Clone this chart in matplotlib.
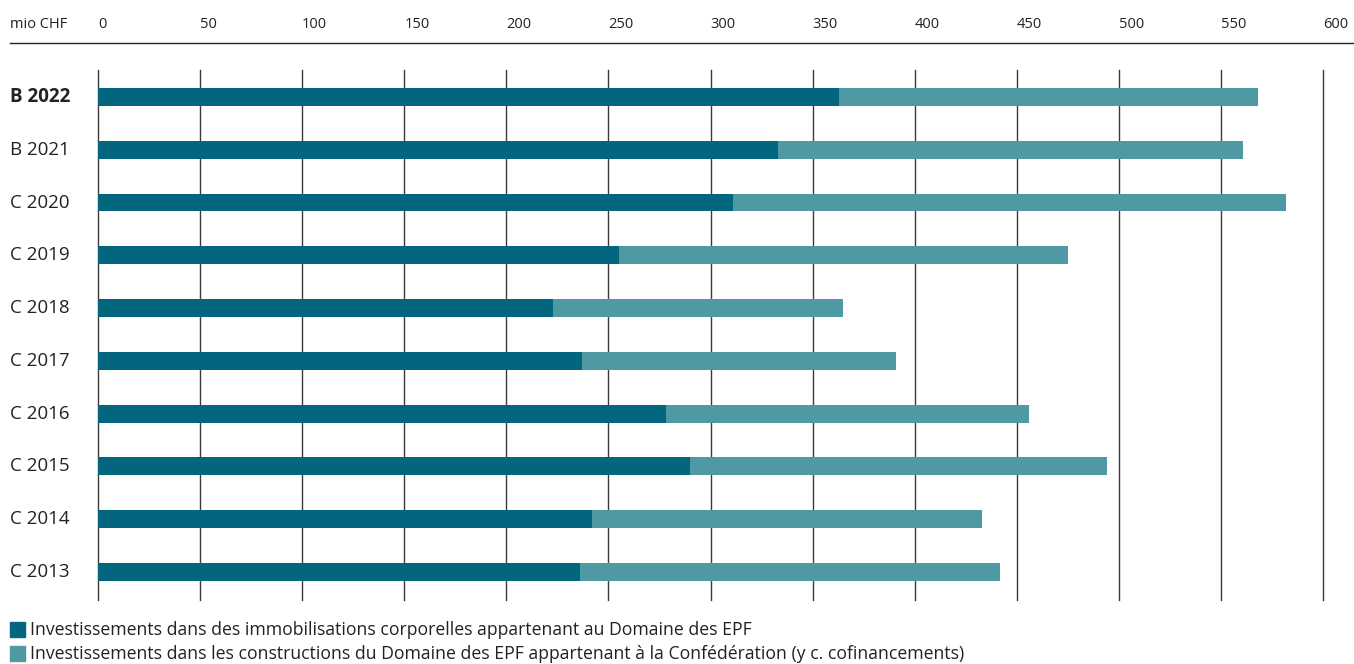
import numpy as np
import matplotlib.pyplot as plt
import matplotlib.patches as mpatches
import matplotlib.lines as mlines

plt.rcParams['font.family'] = ['Open Sans', 'DejaVu Sans']

annees = ['B 2022', 'B 2021', 'C 2020', 'C 2019', 'C 2018', 'C 2017', 'C 2016', 'C 2015', 'C 2014', 'C 2013']
immobilisations = [363, 333, 311, 255, 223, 237, 278, 290, 242, 236]
total = [568, 561, 582, 475, 365, 391, 456, 494, 433, 442]
constructions = [t - i for t, i in zip(total, immobilisations)]
ticks = [0, 50, 100, 150, 200, 250, 300, 350, 400, 450, 500, 550, 600]

c_fonce = '#03667f'
c_clair = '#4f99a5'
legende = ['Investissements dans des immobilisations corporelles appartenant au Domaine des EPF',
           'Investissements dans les constructions du Domaine des EPF appartenant à la Confédération (y c. cofinancements)']

W, H = 1354, 664
fig = plt.figure(figsize=(W / 100, H / 100), dpi=100)
ax = fig.add_axes([98 / W, 1 - 600 / H, (1323 - 98) / W, 530 / H])

y = np.arange(len(annees))
ax.barh(y, immobilisations, height=0.34, color=c_fonce, zorder=3)
ax.barh(y, constructions, left=immobilisations, height=0.34, color=c_clair, zorder=3)

ax.set_xlim(0, 600)
ax.set_ylim(9.53, -0.51)
ax.set_xticks(ticks)
ax.xaxis.grid(True, color='#3a3a3a', linewidth=1, zorder=0)
for gl in ax.get_xgridlines():
    gl.set_clip_on(False)
ax.tick_params(axis='both', length=0, labelbottom=False, labelleft=False)
ax.set_yticks(y)
for s in ax.spines.values():
    s.set_visible(False)

# annees a gauche
for i, a in enumerate(annees):
    ax.text(-88 / 1225, y[i], a, transform=ax.get_yaxis_transform(), fontsize=13.5,
            fontweight='bold' if i == 0 else 'normal', va='center', ha='left', color='#222222')

# echelle en haut
fig.text(10 / W, 1 - 25 / H, 'mio CHF', fontsize=10.5, va='center', ha='left', color='#222222')
for t in ticks:
    xp = (98 + t * (1225 / 600)) / W
    fig.text(xp, 1 - 25 / H, str(t), fontsize=10.5, va='center', ha='left', color='#222222')
fig.add_artist(mlines.Line2D([10 / W, 1], [1 - 43 / H, 1 - 43 / H], color='#222222', linewidth=1))

# legende
for i, (txt, c) in enumerate(zip(legende, [c_fonce, c_clair])):
    yp = 622 + i * 24
    fig.add_artist(mpatches.Rectangle((10 / W, 1 - (yp + 15) / H), 15 / W, 15 / H, color=c,
                                      transform=fig.transFigure))
    fig.text(30 / W, 1 - (yp + 8) / H, txt, fontsize=12.7, va='center', ha='left', color='#222222')

fig.savefig('out.png', dpi=100)
